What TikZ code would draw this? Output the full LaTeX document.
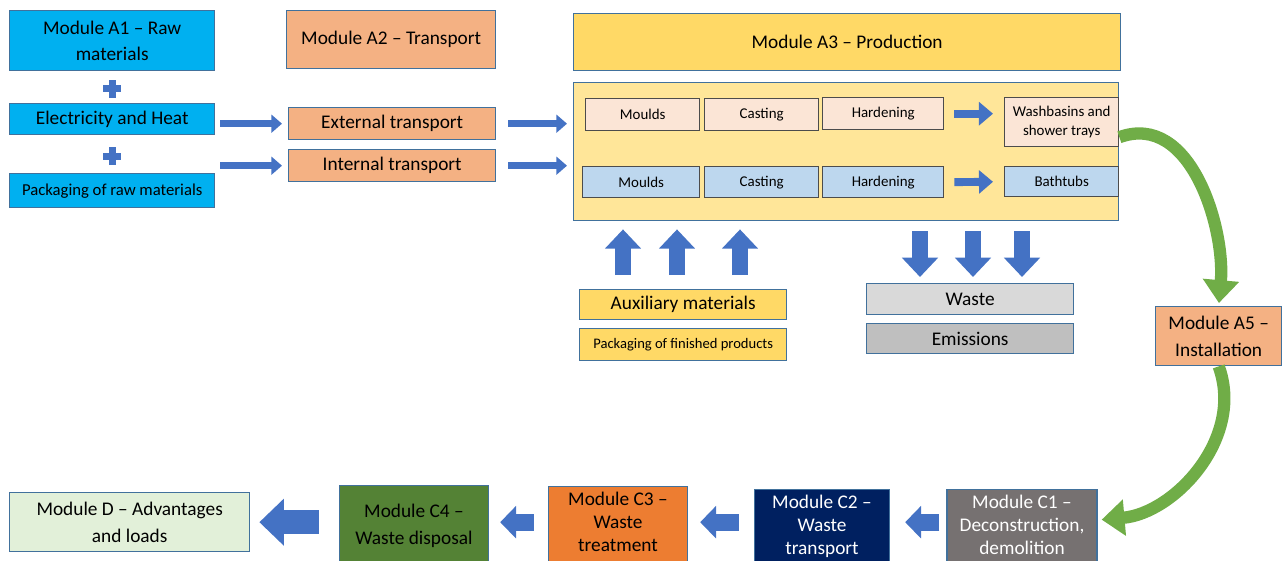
\documentclass[tikz,border=0pt]{standalone}
\usepackage{fontspec}
\setmainfont{Carlito}
\usepackage{tikz}
\usetikzlibrary{arrows.meta, calc}
\usepackage{xcolor}
\definecolor{blueA1}{RGB}{0, 176, 240}
\definecolor{orangeA2}{RGB}{244, 177, 131}
\definecolor{yellowA3}{RGB}{255, 217, 102}
\definecolor{yellowbody}{RGB}{255, 230, 153}
\definecolor{peach}{RGB}{251, 229, 214}
\definecolor{paleblue}{RGB}{189, 215, 238}
\definecolor{wastegray}{RGB}{217, 217, 217}
\definecolor{emisgray}{RGB}{191, 191, 191}
\definecolor{palegreen}{RGB}{226, 240, 217}
\definecolor{darkgreen}{RGB}{84, 130, 53}
\definecolor{orangeC3}{RGB}{237, 125, 49}
\definecolor{navy}{RGB}{0, 32, 96}
\definecolor{grayC1}{RGB}{118, 113, 113}
\definecolor{arrowblue}{RGB}{68, 114, 196}
\definecolor{arrowgreen}{RGB}{112, 173, 71}
\definecolor{edgeblue}{RGB}{65, 113, 156}
\tikzset{
    module/.style={draw=edgeblue, line width=0.8pt, anchor=north west, inner sep=1pt, align=center, font=\fontsize{11}{15}\selectfont},
    smalltext/.style={font=\fontsize{9.5}{12}\selectfont},
    stage/.style={module, draw=black!70, font=\fontsize{8.5}{11}\selectfont},
    endoflife/.style={module, anchor=north, inner ysep=3pt, text depth=36pt, font=\fontsize{11}{13}\selectfont},
    % block arrows
    thinflow/.style={draw=arrowblue, line width=4.2pt, -{Triangle[length=6pt, width=10pt]}},
    rowflow/.style={draw=arrowblue, line width=4.5pt, -{Triangle[length=8pt, width=13pt]}},
    bigflow/.style={draw=arrowblue, line width=9.6pt, -{Triangle[length=11pt, width=20pt]}},
    backflow/.style={draw=arrowblue, line width=9.6pt, -{Triangle[length=9pt, width=18pt]}},
    greenflow/.style={draw=arrowgreen, line width=7pt, -{Triangle[length=13pt, width=20pt]}},
    plusmark/.style={draw=arrowblue, line width=4pt},
}

\begin{document}
\begin{tikzpicture}[x=0.02cm, y=-0.02cm]
    \useasboundingbox (0,0) rectangle (1282,561);
    % Module A1
    \node (a1) [module, fill=blueA1, minimum width=4.1cm, minimum height=1.2cm] at (9,10) {Module A1 – Raw\\materials};
    \node (elec) [module, fill=blueA1, minimum width=4.1cm, minimum height=0.62cm] at (9,103) {Electricity and Heat};
    \node (packraw) [module, smalltext, fill=blueA1, minimum width=4.1cm, minimum height=0.68cm] at (9,173) {Packaging of raw materials};
    \foreach \a/\b in {a1/elec, elec/packraw} {
        \path ($(\a.south)!0.55!(\b.north)$) coordinate (plus);
        \draw[plusmark] ([xshift=-0.18cm]plus) -- ([xshift=0.18cm]plus)
            ([yshift=-0.18cm]plus) -- ([yshift=0.18cm]plus);
    }
    % Module A2
    \node (a2) [module, fill=orangeA2, minimum width=4.18cm, minimum height=1.16cm] at (286,10) {Module A2 – Transport};
    \node (ext) [module, fill=orangeA2, minimum width=4.14cm, minimum height=0.64cm] at (288,107) {External transport};
    \node (int) [module, fill=orangeA2, minimum width=4.14cm, minimum height=0.64cm] at (288,149) {Internal transport};
    \draw[thinflow, shorten <=0.1cm, shorten >=0.12cm] (ext.west -| elec.east) -- (ext.west);
    \draw[thinflow, shorten <=0.1cm, shorten >=0.12cm] (int.west -| elec.east) -- (int.west);
    % Module A3
    \node (a3) [module, fill=yellowA3, minimum width=10.94cm, minimum height=1.14cm] at (573,13) {Module A3 – Production};
    \node (body) [module, fill=yellowbody, minimum width=10.9cm, minimum height=2.76cm] at (573,82) {};
    \draw[thinflow, shorten <=0.24cm, shorten >=0.12cm] (ext.east) -- (ext.east -| body.west);
    \draw[thinflow, shorten <=0.24cm, shorten >=0.12cm] (int.east) -- (int.east -| body.west);
    \node (mould1) [stage, fill=peach, minimum width=2.28cm, minimum height=0.64cm] at (585,98) {Moulds};
    \node (cast1) [stage, fill=peach, minimum width=2.28cm, minimum height=0.64cm] at (704,98) {Casting};
    \node (hard1) [stage, fill=peach, minimum width=2.42cm, minimum height=0.64cm] at (822,97) {Hardening};
    \node (wash) [stage, fill=peach, minimum width=2.28cm, minimum height=0.98cm] at (1004,97) {Washbasins and\\shower trays};
    \node (mould2) [stage, fill=paleblue, minimum width=2.34cm, minimum height=0.62cm] at (582,166) {Moulds};
    \node (cast2) [stage, fill=paleblue, minimum width=2.28cm, minimum height=0.62cm] at (704,166) {Casting};
    \node (hard2) [stage, fill=paleblue, minimum width=2.42cm, minimum height=0.62cm] at (822,166) {Hardening};
    \node (bath) [stage, fill=paleblue, minimum width=2.28cm, minimum height=0.6cm] at (1004,166) {Bathtubs};
    \draw[rowflow, shorten <=0.2cm, shorten >=0.22cm] (hard1.east) -- (hard1.east -| wash.west);
    \draw[rowflow, shorten <=0.2cm, shorten >=0.22cm] (hard2.east) -- (bath.west);
    % inputs and outputs
    \node (aux) [module, fill=yellowA3, minimum width=4.14cm, minimum height=0.6cm] at (579,289) {Auxiliary materials};
    \node (packfin) [module, fill=yellowA3, font=\fontsize{8.3}{10}\selectfont, minimum width=4.14cm, minimum height=0.64cm] at (579,328) {Packaging of finished products};
    \node (waste) [module, fill=wastegray, minimum width=4.14cm, minimum height=0.62cm] at (866,283) {Waste};
    \node (emis) [module, fill=emisgray, minimum width=4.14cm, minimum height=0.6cm] at (866,323) {Emissions};
    \foreach \x in {623,677,740}
        \draw[bigflow, shorten <=0.28cm, shorten >=0.16cm] (aux.north -| \x,0) -- (body.south -| \x,0);
    \foreach \x in {920,973,1022}
        \draw[bigflow, shorten <=0.2cm, shorten >=0.12cm] (body.south -| \x,0) -- (waste.north -| \x,0);
    % Module A5
    \node (a5) [module, fill=orangeA2, minimum width=2.52cm, minimum height=1.18cm] at (1155,306) {Module A5 –\\Installation};
    \draw[greenflow, shorten >=0.06cm] ([yshift=-0.3cm]wash.east) to[out=20, in=85] (a5.north);
    % end of life
    \node (c1) [endoflife, fill=grayC1, text=white, minimum width=3cm] at (1022,489) {Module C1 –\\Deconstruction,\\demolition};
    \node (c2) [endoflife, fill=navy, text=white, minimum width=2.7cm] at (822,489) {Module C2 –\\Waste\\transport};
    \node (c3) [endoflife, fill=orangeC3, minimum width=2.78cm] at (618,486) {Module C3 –\\Waste\\treatment};
    \node (c4) [module, fill=darkgreen, minimum width=2.98cm, minimum height=1.6cm, anchor=north] at (414,485) {Module C4 –\\Waste disposal};
    \node (d) [module, fill=palegreen, minimum width=4.8cm, minimum height=1.18cm] at (9,492) {Module D – Advantages\\and loads};
    \draw[greenflow, shorten >=0.08cm] (a5.south) to[out=-70, in=5] ([yshift=-0.62cm]c1.north east);
    \draw[backflow, shorten <=0.14cm, shorten >=0.3cm] (c1.west |- d.east) -- (c2.east |- d.east);
    \draw[backflow, shorten <=0.3cm, shorten >=0.24cm] (c2.west |- d.east) -- (c3.east |- d.east);
    \draw[backflow, shorten <=0.28cm, shorten >=0.22cm] (c3.west |- d.east) -- (c4.east |- d.east);
    \draw[backflow, line width=13.6pt, -{Triangle[length=14pt, width=26pt]}, shorten <=0.4cm, shorten >=0.18cm] (c4.west |- d.east) -- (d.east);
\end{tikzpicture}
\end{document}
